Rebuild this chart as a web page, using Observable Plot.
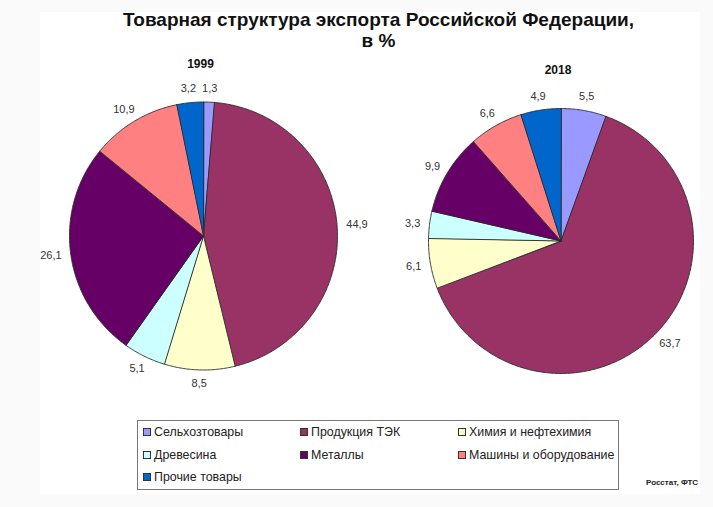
<!DOCTYPE html>
<html>
<head>
<meta charset="utf-8">
<script src="https://cdn.jsdelivr.net/npm/d3@7"></script>
<script src="https://cdn.jsdelivr.net/npm/@observablehq/plot@0.6"></script>
<style>
  html, body { margin: 0; padding: 0; }
  body { width: 713px; height: 507px; background: #fafafa; font-family: "Liberation Sans", Arial, sans-serif; position: relative; overflow: hidden; }
  #sheet { position: absolute; left: 40px; top: 12px; width: 660px; height: 482px; background: #fff; }
  #title { position: absolute; left: 0; top: 9px; width: 757px; text-align: center; font-weight: bold; font-size: 19px; line-height: 21px; color: #111; }
  #chart { position: absolute; left: 0; top: 50px; }
  #legend { position: absolute; left: 137px; top: 420px; width: 480px; height: 68px; border: 1px solid #777; background: #fff; font-size: 12.4px; color: #222; }
  .item { position: absolute; display: flex; align-items: center; white-space: nowrap; }
  .sw { width: 6px; height: 6px; border: 1px solid #333; margin-right: 3px; }
  #source { position: absolute; left: 646px; top: 478px; font-size: 8px; font-weight: bold; color: #222; white-space: nowrap; }
</style>
</head>
<body>
<div id="sheet"></div>
<div id="title">Товарная структура экспорта Российской Федерации,<br>в %</div>
<div id="chart"></div>
<div id="legend"></div>
<div id="source">Росстат, ФТС</div>
<script>
const categories = ["Сельхозтовары", "Продукция ТЭК", "Химия и нефтехимия", "Древесина", "Металлы", "Машины и оборудование", "Прочие товары"];
const colors = ["#9999ff", "#993366", "#ffffcc", "#ccffff", "#660066", "#ff8080", "#0066cc"];
const years = ["1999", "2018"];
const values1999 = [1.3, 44.9, 8.5, 5.1, 26.1, 10.9, 3.2];
const values2018 = [5.5, 63.7, 6.1, 3.3, 9.9, 6.6, 4.9];

// layout (svg pixel coordinates)
const W = 713, H = 360;
const pies = [
  {year: years[0], values: values1999, cx: 203, cy: 185.5, r: 134},
  {year: years[1], values: values2018, cx: 560.5, cy: 190.5, r: 132.5}
];

const slicePts = [];
const labels = [];
const yearLabels = [];
for (const p of pies) {
  const arcs = d3.pie().sort(null).value(d => d)(p.values);
  arcs.forEach((a, i) => {
    const key = p.year + "-" + i;
    slicePts.push({key, cat: categories[i], x: p.cx, y: p.cy});
    const n = Math.max(2, Math.ceil((a.endAngle - a.startAngle) / 0.01));
    for (let k = 0; k <= n; k++) {
      const t = a.startAngle + (a.endAngle - a.startAngle) * k / n;
      slicePts.push({key, cat: categories[i], x: p.cx + p.r * Math.sin(t), y: p.cy - p.r * Math.cos(t)});
    }
    const m = (a.startAngle + a.endAngle) / 2;
    const text = String(p.values[i]).replace(".", ",");
    const w = text.length * 6, h = 12, R = p.r + 8;
    labels.push({
      text,
      x: p.cx + R * Math.sin(m) + (w / 2) * Math.sin(m),
      y: p.cy - R * Math.cos(m) - (h / 2) * Math.cos(m)
    });
  });
  yearLabels.push({text: p.year, x: p.cx - 3, y: p.cy - p.r - 38});
}

const chart = Plot.plot({
  width: W,
  height: H,
  margin: 0,
  x: {domain: [0, W], range: [0, W], axis: null},
  y: {domain: [0, H], range: [0, H], axis: null},
  color: {domain: categories, range: colors},
  style: {background: "transparent", fontFamily: "'Liberation Sans', Arial, sans-serif"},
  marks: [
    Plot.line(slicePts, {x: "x", y: "y", z: "key", fill: "cat", stroke: "#2a2a2a", strokeWidth: 0.9, curve: "linear-closed"}),
    Plot.text(labels, {x: "x", y: "y", text: "text", fontSize: 11, fill: "#333", textAnchor: "middle", lineAnchor: "middle"}),
    Plot.text(yearLabels, {x: "x", y: "y", text: "text", fontSize: 12, fontWeight: "bold", fill: "#111", textAnchor: "middle", lineAnchor: "middle"})
  ]
});
document.getElementById("chart").appendChild(chart);

// legend
const legend = document.getElementById("legend");
const colX = [5, 162, 320];
const rowY = [4, 27, 49];
categories.forEach((c, i) => {
  const el = document.createElement("div");
  el.className = "item";
  el.style.left = colX[i % 3] + "px";
  el.style.top = rowY[Math.floor(i / 3)] + "px";
  const sw = document.createElement("span");
  sw.className = "sw";
  sw.style.background = colors[i];
  const tx = document.createElement("span");
  tx.textContent = c;
  el.appendChild(sw);
  el.appendChild(tx);
  legend.appendChild(el);
});
</script>
</body>
</html>
